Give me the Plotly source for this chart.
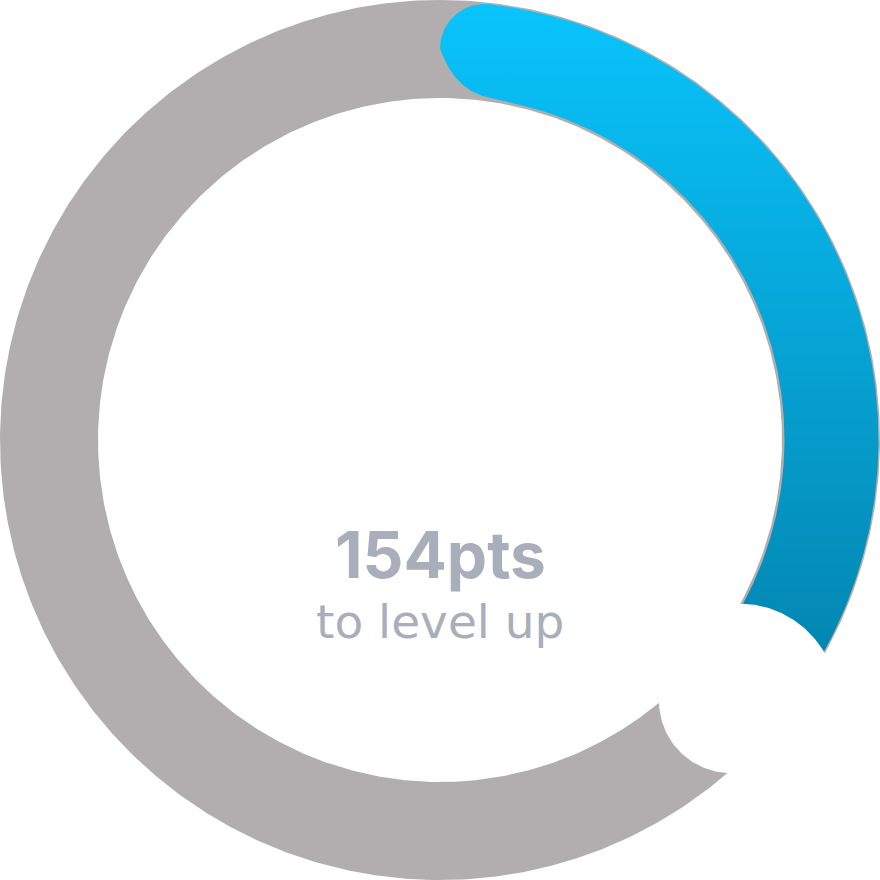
import numpy as np
import plotly.graph_objects as go

# ---------------- data ----------------
categories = ["Progress", "Gap", "Remaining"]
shares_pct = [33.0, 5.8, 61.2]          # share of the full ring, in percent
points_to_level = 154
label_unit = "pts"
label_sub = "to level up"

# ---------------- style ----------------
GREY = "#b2aeaf"
BLUE_TOP = "#09c4fc"
BLUE_BOTTOM = "#0386b1"
TEXT = "#a9aebb"
R_OUT, R_IN = 440.0, 342.0            # background ring
B_OUT, B_IN = 438.5, 344.5            # progress arc (slightly inset)


def pol(r, th_deg):
    th = np.radians(th_deg)
    return r * np.sin(th), r * np.cos(th)


def arc3(p1, p2, p3, n=60):
    (x1, y1), (x2, y2), (x3, y3) = p1, p2, p3
    d = 2 * (x1 * (y2 - y3) + x2 * (y3 - y1) + x3 * (y1 - y2))
    ux = ((x1**2 + y1**2) * (y2 - y3) + (x2**2 + y2**2) * (y3 - y1) + (x3**2 + y3**2) * (y1 - y2)) / d
    uy = ((x1**2 + y1**2) * (x3 - x2) + (x2**2 + y2**2) * (x1 - x3) + (x3**2 + y3**2) * (x2 - x1)) / d
    r = np.hypot(x1 - ux, y1 - uy)
    a1 = np.arctan2(y1 - uy, x1 - ux)
    a2 = np.arctan2(y2 - uy, x2 - ux)
    a3 = np.arctan2(y3 - uy, x3 - ux)

    def norm(a):
        return (a - a1) % (2 * np.pi)
    if norm(a2) < norm(a3):
        angs = a1 + np.linspace(0, norm(a3), n)
    else:
        angs = a1 - np.linspace(0, 2 * np.pi - norm(a3), n)
    return ux + r * np.cos(angs), uy + r * np.sin(angs)


# angles derived from the data
cum = np.cumsum(shares_pct) / 100.0 * 360.0
start_deg = 0.0
end_deg = cum[0]          # end of progress
gap_end_deg = cum[1]      # end of gap

fig = go.Figure()

# ---- background ring ----
t = np.linspace(0, 360, 721)
xo, yo = pol(R_OUT, t)
xi, yi = pol(R_IN, t[::-1])
fig.add_trace(go.Scatter(
    x=np.concatenate([xo, xi]), y=np.concatenate([yo, yi]),
    mode="lines", fill="toself", fillcolor=GREY,
    line=dict(width=0, color=GREY), hoverinfo="skip", showlegend=False,
    name=categories[2]))

# ---- progress arc ----
mid_r = (B_OUT + B_IN) / 2
rot = np.radians(start_deg)


def rotp(x, y):
    c, s = np.cos(rot), np.sin(rot)
    return x * c + y * s, -x * s + y * c


# upper rounded cap (frame where start angle = 0)
rc = (B_OUT**2 - mid_r**2) / (2 * B_OUT)
cx, cy = rc, mid_r
phi_t = np.arctan2(cy, cx)
phis = np.linspace(np.pi, phi_t, 60)
cap_x = cx + rc * np.cos(phis)
cap_y = cy + rc * np.sin(phis)
t_deg = np.degrees(np.arctan2(cx, cy))  # clock angle of tangent point

span = end_deg + 4 - start_deg
to = np.linspace(t_deg, span, 400)
ox, oy = pol(B_OUT, to)
inner_join = 10.4
ti = np.linspace(span, inner_join, 400)
ix, iy = pol(B_IN, ti)
P0 = np.array([0.0, mid_r])
d0 = np.array([np.sin(np.radians(20)), -np.cos(np.radians(20))])
P3 = np.array(pol(B_IN, inner_join))
tan3 = np.array([np.cos(np.radians(inner_join)), -np.sin(np.radians(inner_join))])
P1 = P0 + 35 * d0
P2 = P3 - 35 * tan3
u = np.linspace(1, 0, 60)[:, None]
bez = ((1 - u)**3) * P0 + 3 * ((1 - u)**2) * u * P1 + 3 * (1 - u) * u**2 * P2 + u**3 * P3

bx = np.concatenate([cap_x, ox, ix, bez[:, 0]])
by = np.concatenate([cap_y, oy, iy, bez[:, 1]])
bx, by = rotp(bx, by)

fig.add_trace(go.Scatter(
    x=bx, y=by, mode="lines", fill="toself",
    fillgradient=dict(type="vertical",
                      colorscale=[[0, BLUE_BOTTOM], [1, BLUE_TOP]],
                      start=-215, stop=440),
    line=dict(width=0, color=BLUE_TOP), hoverinfo="skip", showlegend=False,
    name=categories[0]))

# ---- gap (white blob with rounded ends) ----
sA, sB = 13.0, 19.0
mr = (R_IN + R_OUT) / 2
A_in = pol(R_IN, end_deg - 0.2)
A_mid = pol(mr, end_deg - np.degrees(sA / mr))
A_out = pol(R_OUT, end_deg + 0.2)
B_out = pol(R_OUT, gap_end_deg - 0.5)
B_mid = pol(mr, gap_end_deg + np.degrees(sB / mr))
B_in = pol(R_IN, gap_end_deg + 0.5)
ax_, ay_ = arc3(A_in, A_mid, A_out)
bx_, by_ = arc3(B_out, B_mid, B_in)
tt = np.linspace(end_deg, gap_end_deg, 60)
eox, eoy = pol(R_OUT + 10, tt)
eix, eiy = pol(R_IN - 10, tt[::-1])
pA_in = pol(R_IN - 10, end_deg - 0.2)
pA_out = pol(R_OUT + 10, end_deg + 0.2)
pB_out = pol(R_OUT + 10, gap_end_deg - 0.5)
pB_in = pol(R_IN - 10, gap_end_deg + 0.5)
wx = np.concatenate([[pA_in[0]], ax_, [pA_out[0]], eox, [pB_out[0]], bx_, [pB_in[0]], eix])
wy = np.concatenate([[pA_in[1]], ay_, [pA_out[1]], eoy, [pB_out[1]], by_, [pB_in[1]], eiy])
fig.add_trace(go.Scatter(
    x=wx, y=wy, mode="lines", fill="toself", fillcolor="#ffffff",
    line=dict(width=0, color="#ffffff"), hoverinfo="skip", showlegend=False,
    name=categories[1]))

# ---- centre text ----
fig.add_annotation(x=0, y=-114, xref="x", yref="y", showarrow=False,
                   text=f"{points_to_level}{label_unit}",
                   font=dict(family="Inter", size=64, color=TEXT, weight=700),
                   xanchor="center", yanchor="middle")
fig.add_annotation(x=0, y=-181, xref="x", yref="y", showarrow=False,
                   text=label_sub,
                   font=dict(family="DejaVu Sans", size=47, color=TEXT),
                   xanchor="center", yanchor="middle")

fig.update_layout(
    width=880, height=880,
    margin=dict(l=0, r=0, t=0, b=0),
    paper_bgcolor="#ffffff", plot_bgcolor="#ffffff",
    xaxis=dict(range=[-440, 440], visible=False, fixedrange=True),
    yaxis=dict(range=[-440, 440], visible=False, fixedrange=True),
    showlegend=False,
)

fig.write_html("out.html", config={"displayModeBar": False})
